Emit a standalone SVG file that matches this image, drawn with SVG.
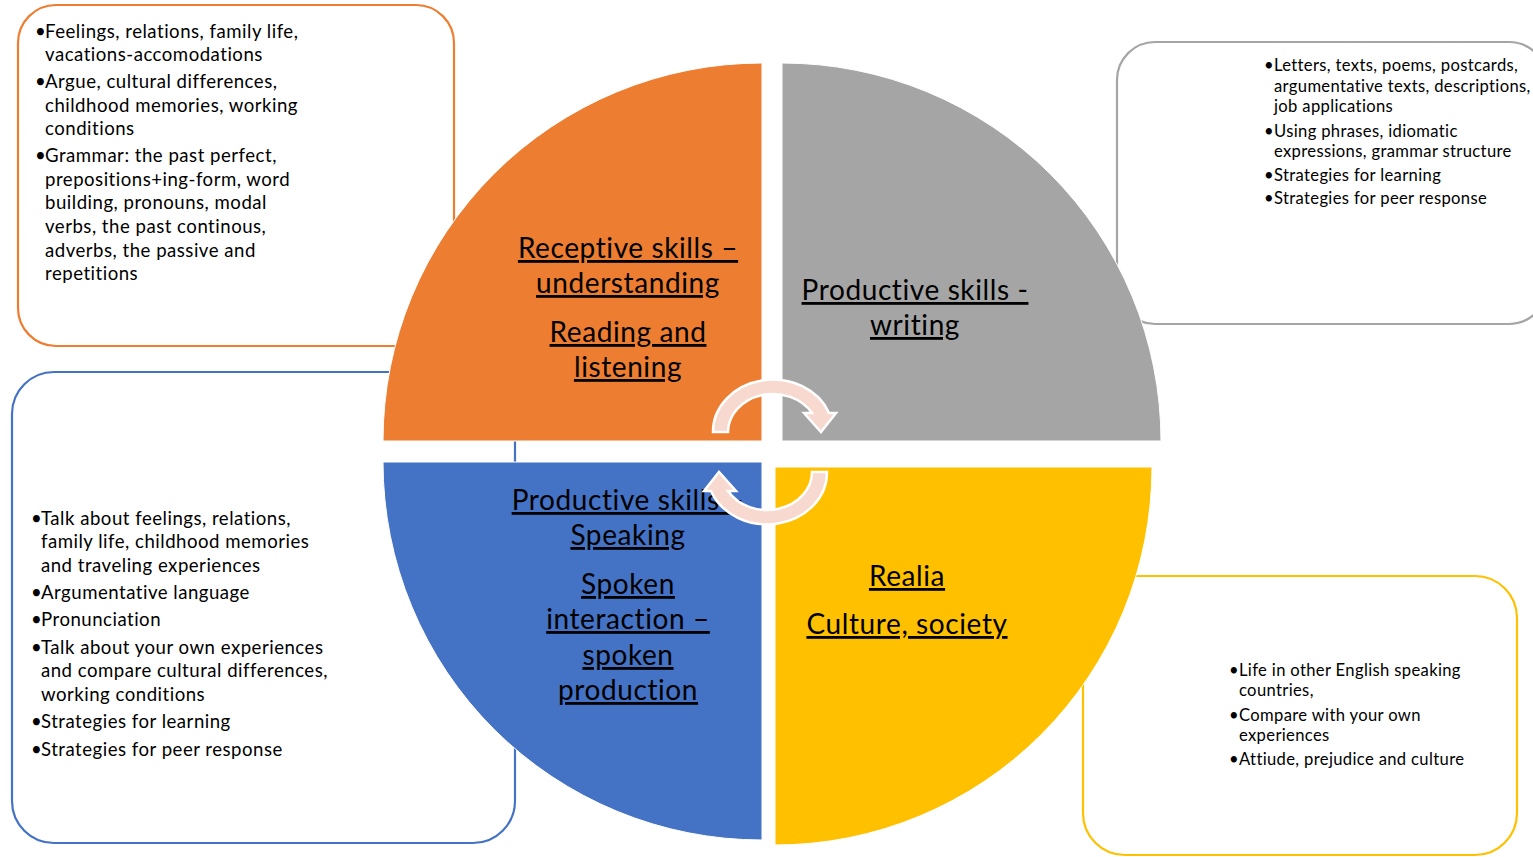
<svg xmlns="http://www.w3.org/2000/svg" width="1533" height="857" viewBox="0 0 1533 857">
<style>
.box{fill:#fff;stroke-width:2.2}
.t{font-family:Lato,"Liberation Sans",sans-serif;fill:#000}
.s18{font-size:18.6px;letter-spacing:0.5px}
.s16{font-size:16.6px;letter-spacing:0.35px}
.lbl{font-family:Lato,"Liberation Sans",sans-serif;font-size:28px;letter-spacing:0.6px;fill:#000;text-decoration:underline;text-anchor:middle}
.q{stroke:#fff;stroke-width:1}
.arr{fill:#F8D9CF;stroke:#fff;stroke-width:2.5;stroke-linejoin:miter}
</style>
<rect width="1533" height="857" fill="#fff"/>

<g id="box-reading">
<rect class="box" x="18" y="5" width="436" height="341" rx="38" stroke="#ED7D31"/>
<g class="t s18" transform="translate(0,1)">
<text x="35" y="37">•</text><text x="45" y="37">Feelings, relations, family life,</text>
<text x="45" y="60">vacations-accomodations</text>
<text x="35" y="87">•</text><text x="45" y="87">Argue, cultural differences,</text>
<text x="45" y="111">childhood memories, working</text>
<text x="45" y="134">conditions</text>
<text x="35" y="161">•</text><text x="45" y="161">Grammar: the past perfect,</text>
<text x="45" y="185">prepositions+ing-form, word</text>
<text x="45" y="208">building, pronouns, modal</text>
<text x="45" y="232">verbs, the past continous,</text>
<text x="45" y="256">adverbs, the passive and</text>
<text x="45" y="279">repetitions</text>
</g>
</g>

<g id="box-writing">
<rect class="box" x="1117" y="42" width="430" height="282" rx="38" stroke="#A5A5A5"/>
<g class="t s16" transform="translate(0,1)">
<text x="1264" y="70">•</text><text x="1274" y="70">Letters, texts, poems, postcards,</text>
<text x="1274" y="91">argumentative texts, descriptions,</text>
<text x="1274" y="111">job applications</text>
<text x="1264" y="136">•</text><text x="1274" y="136">Using phrases, idiomatic</text>
<text x="1274" y="156">expressions, grammar structure</text>
<text x="1264" y="180">•</text><text x="1274" y="180">Strategies for learning</text>
<text x="1264" y="203">•</text><text x="1274" y="203">Strategies for peer response</text>
</g>
</g>

<g id="box-speaking">
<rect class="box" x="12" y="372" width="503" height="471" rx="42" stroke="#4472C4"/>
<g class="t s18" transform="translate(0,1)">
<text x="31" y="524">•</text><text x="41" y="524">Talk about feelings, relations,</text>
<text x="41" y="547">family life, childhood memories</text>
<text x="41" y="571">and traveling experiences</text>
<text x="31" y="598">•</text><text x="41" y="598">Argumentative language</text>
<text x="31" y="625">•</text><text x="41" y="625">Pronunciation</text>
<text x="31" y="653">•</text><text x="41" y="653">Talk about your own experiences</text>
<text x="41" y="676">and compare cultural differences,</text>
<text x="41" y="700">working conditions</text>
<text x="31" y="727">•</text><text x="41" y="727">Strategies for learning</text>
<text x="31" y="755">•</text><text x="41" y="755">Strategies for peer response</text>
</g>
</g>

<g id="box-realia">
<rect class="box" x="1083" y="576" width="434" height="279" rx="42" stroke="#FFC000"/>
<g class="t s16" transform="translate(0,1)">
<text x="1229" y="675">•</text><text x="1239" y="675">Life in other English speaking</text>
<text x="1239" y="695">countries,</text>
<text x="1229" y="720">•</text><text x="1239" y="720">Compare with your own</text>
<text x="1239" y="740">experiences</text>
<text x="1229" y="764">•</text><text x="1239" y="764">Attiude, prejudice and culture</text>
</g>
</g>

<g id="q-receptive">
<path class="q" fill="#ED7D31" d="M762,441 L383,441 A379,378 0 0 1 762,63 Z"/>
<text class="lbl" x="628" y="258">Receptive skills –</text>
<text class="lbl" x="628" y="293">understanding</text>
<text class="lbl" x="628" y="342">Reading and</text>
<text class="lbl" x="628" y="377">listening</text>
</g>

<g id="q-writing">
<path class="q" fill="#A5A5A5" d="M782,441 L782,63 A379,378 0 0 1 1161,441 Z"/>
<text class="lbl" x="915" y="300">Productive skills -</text>
<text class="lbl" x="915" y="335">writing</text>
</g>

<g id="q-speaking">
<path class="q" fill="#4472C4" d="M762,462 L762,840 A379,378 0 0 1 383,462 Z"/>
<text class="lbl" x="628" y="510">Productive skills –</text>
<text class="lbl" x="628" y="545">Speaking</text>
<text class="lbl" x="628" y="594">Spoken</text>
<text class="lbl" x="628" y="629">interaction –</text>
<text class="lbl" x="628" y="665">spoken</text>
<text class="lbl" x="628" y="700">production</text>
</g>

<g id="q-realia">
<path class="q" fill="#FFC000" d="M775,467 L1152,467 A377,378 0 0 1 775,845 Z"/>
<text class="lbl" x="907" y="586">Realia</text>
<text class="lbl" x="907" y="634">Culture, society</text>
</g>

<g id="connectors">
<path id="arrow-top" class="arr" d="M713,432 A60,52 0 0 1 829,413 L836,413 L821,432 L804,413 L812,413 A45,38 0 0 0 728,432 Z"/>
<path id="arrow-bottom" class="arr" transform="rotate(180 770 452)" d="M713,432 A60,52 0 0 1 829,413 L836,413 L821,432 L804,413 L812,413 A45,38 0 0 0 728,432 Z"/>
</g>
</svg>
